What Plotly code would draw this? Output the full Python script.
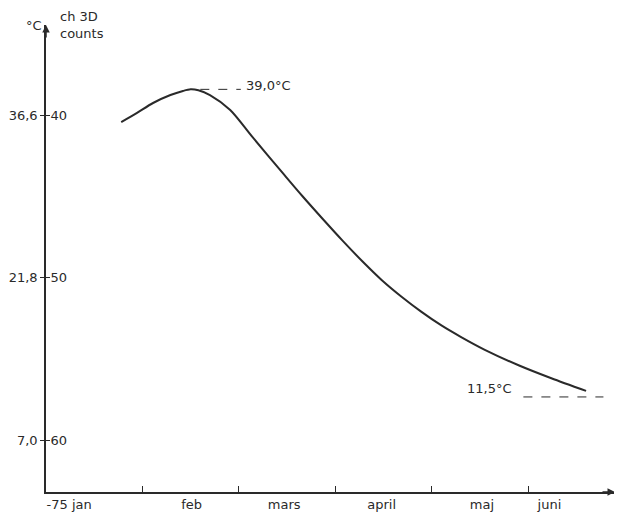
import plotly.graph_objects as go

# Data: x = months since start of Jan 1975, y = channel 3D counts
months = [0.78, 0.94, 1.11, 1.29, 1.42, 1.50, 1.58, 1.70, 1.91, 2.14, 2.48, 2.66, 2.87,
          3.07, 3.28, 3.48, 3.69, 3.89, 4.10, 4.30, 4.55, 4.90, 5.24, 5.60]
counts = [40.43, 39.88, 39.26, 38.77, 38.52, 38.42, 38.48, 38.77, 39.69, 41.35, 43.75, 45.0, 46.4,
          47.7, 49.0, 50.15, 51.2, 52.1, 52.95, 53.65, 54.45, 55.4, 56.2, 56.98]

month_labels = ["-75 jan", "feb", "mars", "april", "maj", "juni"]
month_label_pos = [0.24, 1.51, 2.47, 3.48, 4.52, 5.22]

count_ticks = [40, 50, 60]
count_labels = ["40", "50", "60"]
temp_labels = ["36,6", "21,8", "7,0"]

peak_label = "39,0°C"
end_label = "11,5°C"
peak_count = 38.42
end_count = 57.35

FONT = "DejaVu Sans"
FS = 13
INK = "#2a2a2a"
y_range = [63.2, 34.46]
x_range = [0, 5.9]

fig = go.Figure()
fig.add_trace(go.Scatter(x=months, y=counts, mode="lines",
                         line=dict(color=INK, width=2, shape="spline", smoothing=0.8),
                         hoverinfo="skip", showlegend=False))
# invisible trace to activate yaxis2
fig.add_trace(go.Scatter(x=[months[0]], y=[counts[0]], yaxis="y2", mode="markers",
                         marker=dict(opacity=0), showlegend=False, hoverinfo="skip"))

# dashed reference lines
fig.add_shape(type="line", x0=1.6, x1=2.02, y0=peak_count, y1=peak_count,
              line=dict(color=INK, width=1, dash="dash"))
fig.add_shape(type="line", x0=4.95, x1=5.78, y0=end_count, y1=end_count,
              line=dict(color=INK, width=1, dash="dash"))

fig.add_annotation(x=2.31, y=38.2, text=peak_label, showarrow=False,
                   font=dict(family=FONT, size=FS, color=INK))
fig.add_annotation(x=4.6, y=56.86, text=end_label, showarrow=False,
                   font=dict(family=FONT, size=FS, color=INK))

# axis titles
fig.add_annotation(xref="paper", yref="paper", x=0, y=1, xshift=-12, yshift=0,
                   text="°C", showarrow=False, xanchor="center", yanchor="middle",
                   font=dict(family=FONT, size=FS, color=INK))
fig.add_annotation(xref="paper", yref="paper", x=0, y=1, xshift=12, yshift=0,
                   text="ch 3D<br>counts", showarrow=False, xanchor="left", yanchor="middle",
                   align="left", font=dict(family=FONT, size=FS, color=INK))

# axis arrowheads
fig.add_annotation(xref="paper", yref="paper", x=0, y=1, ax=0, ay=14, text="",
                   showarrow=True, arrowhead=2, arrowsize=1, arrowwidth=1.5, arrowcolor=INK)
fig.add_annotation(xref="paper", yref="paper", x=1, y=0, ax=-14, ay=0, text="",
                   showarrow=True, arrowhead=2, arrowsize=1, arrowwidth=1.5, arrowcolor=INK)

# page body has an 8px margin, so the figure is sized/offset to compensate
fig.update_layout(
    width=614, height=512,
    margin=dict(l=38, r=7, t=17, b=28),
    paper_bgcolor="white", plot_bgcolor="white",
    font=dict(family=FONT, size=FS, color=INK),
    xaxis=dict(range=x_range, showgrid=False, zeroline=False, showline=True,
               linecolor=INK, linewidth=1.5, automargin=False,
               tickmode="array", tickvals=month_label_pos, ticktext=month_labels,
               ticks="", tickfont=dict(family=FONT, size=FS, color=INK),
               minor=dict(tick0=0, dtick=1, ticks="inside", ticklen=6,
                          tickcolor=INK, tickwidth=1, showgrid=False)),
    yaxis=dict(range=y_range, showgrid=False, zeroline=False, showline=True,
               linecolor=INK, linewidth=1.5, automargin=False,
               tickmode="array", tickvals=count_ticks, ticktext=temp_labels,
               ticks="outside", ticklen=4, tickcolor=INK,
               tickfont=dict(family=FONT, size=FS, color=INK)),
    yaxis2=dict(range=y_range, overlaying="y", side="left", showgrid=False,
                zeroline=False, showline=False, automargin=False,
                tickmode="array", tickvals=count_ticks, ticktext=count_labels,
                ticks="inside", ticklen=4, tickcolor=INK,
                ticklabelposition="inside",
                tickfont=dict(family=FONT, size=FS, color=INK)),
)

fig.write_html("out.html")
